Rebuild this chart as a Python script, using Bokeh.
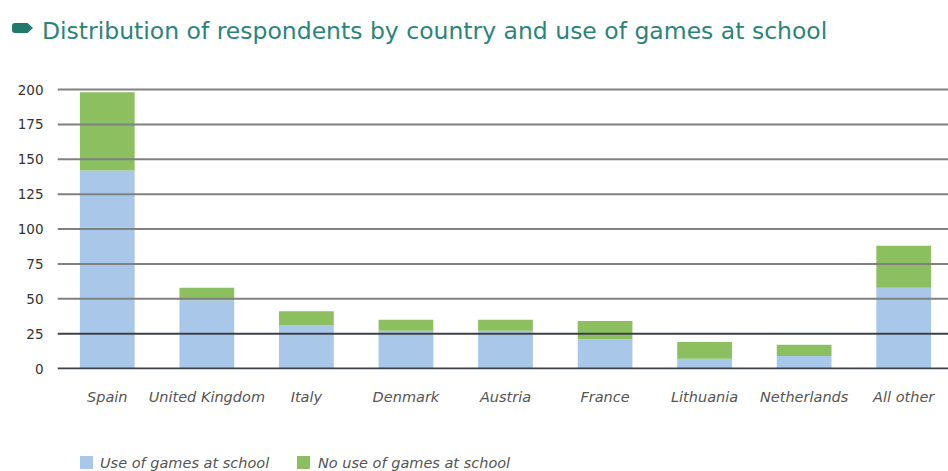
from bokeh.plotting import figure
from bokeh.layouts import column
from bokeh.models import (Range1d, FixedTicker, Span, ColumnDataSource, Div)
from bokeh.embed import file_html
from bokeh.resources import INLINE

# ---- data ----
countries = ["Spain", "United Kingdom", "Italy", "Denmark", "Austria",
             "France", "Lithuania", "Netherlands", "All other"]
use_games = [142, 49, 31, 27, 27, 21, 7, 9, 58]
no_use_games = [56, 9, 10, 8, 8, 13, 12, 8, 30]
y_ticks = [0, 25, 50, 75, 100, 125, 150, 175, 200]
series_labels = ["Use of games at school", "No use of games at school"]
title_text = "Distribution of respondents by country and use of games at school"

# ---- style ----
BLUE = "#a9c7e9"
GREEN = "#8bbf5f"
TEAL = "#2a8579"
FONT = "DejaVu Sans"

W = 948
TITLE_H, PLOT_H, LEG_H = 70, 380, 21
FL, FR, FT, FB = 57, 0, 16, 81  # frame borders inside the figure

# ---- title ----
title_html = (
    f'<div style="position:relative;width:{W}px;height:{TITLE_H}px;">'
    f'<div style="position:absolute;left:12px;top:23px;width:21px;height:10px;'
    f'background:#1f7a6d;border-radius:3px;'
    f'clip-path:polygon(0 0,74% 0,100% 50%,74% 100%,0 100%);"></div>'
    f'<div style="position:absolute;left:42px;top:18px;white-space:nowrap;'
    f'font-family:\'{FONT}\';font-size:23.5px;line-height:27px;color:{TEAL};">'
    f'{title_text}</div></div>'
)
title_div = Div(text=title_html, width=W, height=TITLE_H, margin=(0, 0, 0, 0))

# ---- chart ----
x_pos = [i + 0.5 for i in range(len(countries))]
src = ColumnDataSource(dict(x=x_pos, use=use_games, nouse=no_use_games))

p = figure(width=W, height=PLOT_H, x_range=Range1d(0, 8.95), y_range=Range1d(-0.7, 202.2),
           output_backend="svg", toolbar_location=None, title=None, margin=(0, 0, 0, 0),
           min_border_left=FL, min_border_right=FR, min_border_top=FT, min_border_bottom=FB)
p.outline_line_color = None
p.background_fill_color = "white"
p.border_fill_color = "white"
p.xgrid.visible = False
p.ygrid.visible = False

rs = p.vbar_stack(["use", "nouse"], x="x", width=0.55, source=src,
                  fill_color=[BLUE, GREEN], line_color=None)

for t in y_ticks:
    dark = t in (0, 25)
    p.add_layout(Span(location=t, dimension="width",
                      line_color="#3c4147" if dark else "#808080",
                      line_width=2, level="overlay"))

p.xaxis.ticker = FixedTicker(ticks=x_pos)
p.xaxis.major_label_overrides = {x: c for x, c in zip(x_pos, countries)}
p.xaxis.axis_line_color = None
p.xaxis.major_tick_line_color = None
p.xaxis.minor_tick_line_color = None
p.xaxis.major_tick_out = 0
p.xaxis.major_label_standoff = 19
p.xaxis.major_label_text_font = FONT
p.xaxis.major_label_text_font_style = "italic"
p.xaxis.major_label_text_font_size = "14.5px"
p.xaxis.major_label_text_color = "#555555"

p.yaxis.ticker = FixedTicker(ticks=y_ticks)
p.yaxis.axis_line_color = None
p.yaxis.major_tick_line_color = None
p.yaxis.minor_tick_line_color = None
p.yaxis.major_tick_out = 0
p.yaxis.major_label_standoff = 14
p.yaxis.major_label_text_font = FONT
p.yaxis.major_label_text_font_size = "13.5px"
p.yaxis.major_label_text_color = "#333333"

# ---- legend ----
leg_items = [(80, 100, BLUE, series_labels[0]), (297, 318, GREEN, series_labels[1])]
parts = [f'<div style="position:relative;width:{W}px;height:{LEG_H}px;">']
for sx, tx, col, lab in leg_items:
    parts.append(f'<div style="position:absolute;left:{sx}px;top:6px;width:13px;height:13px;'
                 f'background:{col};"></div>')
    parts.append(f'<div style="position:absolute;left:{tx}px;top:5px;white-space:nowrap;'
                 f'font-family:\'{FONT}\';font-style:italic;font-size:14.5px;line-height:17px;'
                 f'color:#555555;">{lab}</div>')
parts.append('</div>')
legend_div = Div(text="".join(parts), width=W, height=LEG_H, margin=(0, 0, 0, 0))

layout = column(title_div, p, legend_div, spacing=0, margin=(0, 0, 0, 0))

open("out.html", "w").write(file_html(layout, INLINE))
